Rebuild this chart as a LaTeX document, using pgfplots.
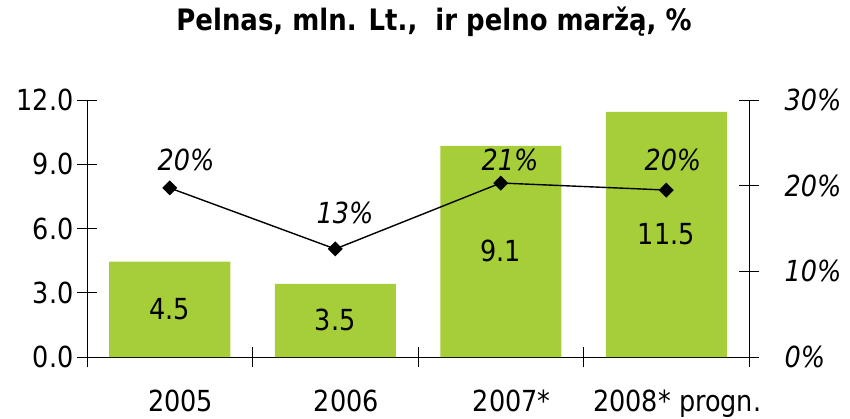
\documentclass[border=0pt]{standalone}
\usepackage{pgfplots}
\pgfplotsset{compat=1.18}
\usepackage{fontspec}
\setmainfont{DejaVu Sans}[FakeStretch=0.88]
\definecolor{barg}{RGB}{166,206,57}
\begin{document}
\begin{tikzpicture}[font=\fontsize{29}{34}\selectfont]
\pgfplotsset{
  common/.style={
    at={(0pt,0pt)}, anchor=south west,
    scale only axis, width=662pt, height=257pt,
    xmin=-0.5, xmax=3.5,
    tick align=center, major tick length=20pt,
    tick style={black, line width=0.8pt},
    axis line style={line width=0.9pt},
    /pgf/number format/assume math mode=true,
    clip=false,
  }
}
\begin{axis}[common,
  ymin=0, ymax=12,
  axis y line*=left, axis x line*=bottom,
  ytick={0,3,6,9,12},
  yticklabel style={/pgf/number format/.cd, fixed, fixed zerofill, precision=1},
  xtick={-0.5,0.5,1.5,2.5,3.5}, xticklabels={},
  extra x ticks={0,1,2,3},
  extra x tick labels={2005,2006,2007*,2008* progn.},
  extra x tick style={major tick length=0pt, xticklabel style={yshift=-29pt, xshift=11pt}},
]
\addplot[ybar, bar width=121pt, fill=barg, draw=none] coordinates {(0,4.45) (1,3.42) (2,9.86) (3,11.45)};
\addplot[draw=none, mark=none, nodes near coords, point meta=explicit symbolic,
  every node near coord/.style={anchor=center, font=\fontsize{29}{34}\selectfont}]
  coordinates {(0,2.22)[4.5] (1,1.71)[3.5] (2,4.93)[9.1] (3,5.72)[11.5]};
\end{axis}
\begin{axis}[common,
  ymin=0, ymax=30,
  axis y line*=right, axis x line=none,
  ytick={0,10,20,30},
  yticklabel={\pgfmathprintnumber{\tick}\%},
  yticklabel style={font=\fontsize{29}{34}\selectfont\itshape, xshift=22pt},
]
\addplot[black, line width=1.4pt, mark=square*, mark size=4.6pt, mark options={rotate=45, fill=black}]
  coordinates {(0,19.73) (1,12.61) (2,20.31) (3,19.49)};
\addplot[draw=none, mark=none, nodes near coords, point meta=explicit symbolic,
  every node near coord/.style={anchor=center, font=\fontsize{29}{34}\selectfont\itshape}]
  coordinates {(0.098,23.0)[20\%] (1.059,16.8)[13\%] (2.056,23.0)[21\%] (3.04,23.0)[20\%]};
\end{axis}
\node[font=\fontsize{29.5}{34}\selectfont\bfseries] at (347pt,335pt) {Pelnas, mln. Lt.,\ \ ir pelno maržą, \%};
\pgfresetboundingbox
\path (-87pt,-61pt) rectangle (763pt,357pt);
\end{tikzpicture}
\end{document}
